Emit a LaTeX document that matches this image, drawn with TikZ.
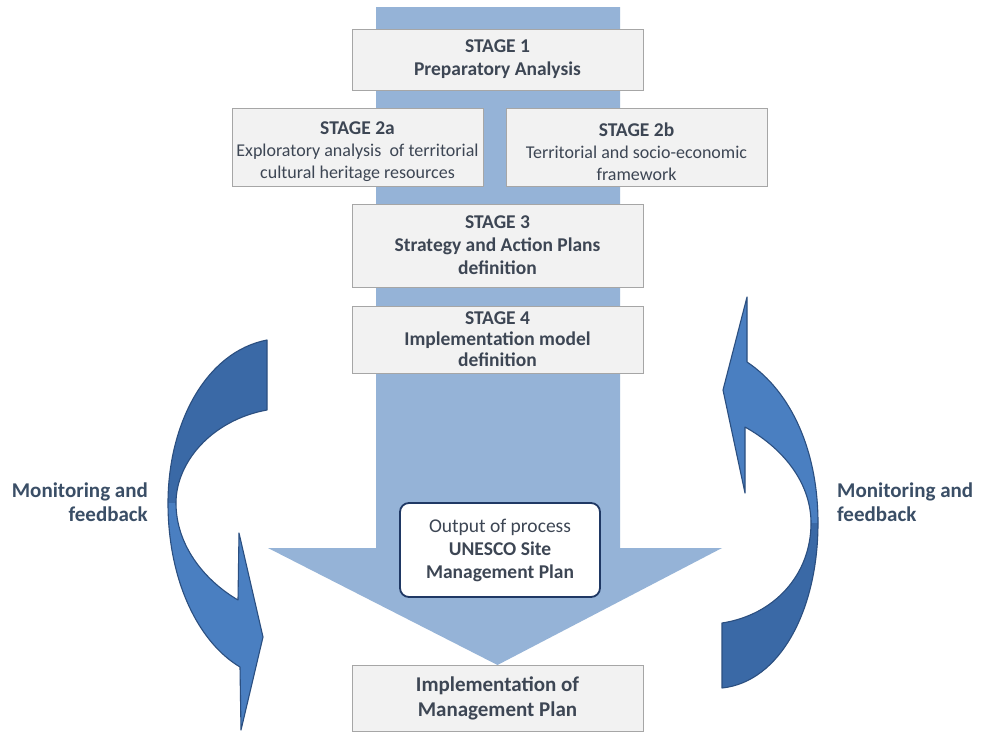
\documentclass[tikz,border=0pt]{standalone}
\usepackage{fontspec}
\setmainfont{Carlito}
\definecolor{barblue}{HTML}{95B3D7}
\definecolor{darkarrow}{HTML}{3A69A6}
\definecolor{lightarrow}{HTML}{4A7FC1}
\definecolor{arrowline}{HTML}{2B4F80}
\definecolor{boxfill}{HTML}{F2F2F2}
\definecolor{boxline}{HTML}{A6A6A6}
\definecolor{txt}{HTML}{3D4654}
\definecolor{montxt}{HTML}{3A4E66}
\definecolor{outline}{HTML}{1F3864}
\tikzset{
  stagebox/.style={draw=boxline, fill=boxfill, line width=0.9pt, align=center,
    text=txt, inner sep=0pt, font=\fontsize{19.5}{23}\selectfont\bfseries},
  boxtext/.style={align=center, text=txt, inner sep=0pt, font=\fontsize{18}{22}\selectfont},
  outbox/.style={draw=outline, fill=white, line width=1.8pt, rounded corners=9pt,
    align=center, text=txt, inner sep=0pt, font=\fontsize{19.5}{23}\selectfont},
  montext/.style={text=montxt, font=\fontsize{21}{24}\selectfont\bfseries, inner sep=0pt},
  arrowedge/.style={draw=arrowline, line width=1.1pt, line join=round}
}
\begin{document}
\begin{tikzpicture}[x=1pt,y=-1pt]
\useasboundingbox (0,0) rectangle (982,731);
\fill[white] (0,0) rectangle (982,731);

% main big arrow
\fill[barblue] (376,7) -- (620,7) -- (620,548) -- (722,548) -- (497.5,665) -- (268,548) -- (376,548) -- cycle;

% left curved arrow
\fill[darkarrow] (267,340) .. controls (205,352) and (168,425) .. (168,503)
  -- (176,503) .. controls (176,462) and (212,420) .. (267,410) -- cycle;
\fill[lightarrow] (168,503) .. controls (168,580) and (198,642) .. (240,667)
  -- (241,730) -- (263,637) -- (239,533) -- (238,600)
  .. controls (204,580) and (176,545) .. (176,503) -- cycle;
\draw[arrowedge] (267,340) .. controls (205,352) and (168,425) .. (168,503)
  .. controls (168,580) and (198,642) .. (240,667)
  -- (241,730) -- (263,637) -- (239,533) -- (238,600)
  .. controls (204,580) and (176,545) .. (176,503)
  .. controls (176,462) and (212,420) .. (267,410) -- cycle;

% right curved arrow
\fill[lightarrow] (747,297) -- (747,362) .. controls (792,392) and (818,452) .. (818,523)
  -- (811,523) .. controls (811,485) and (786,450) .. (745,427)
  -- (745,493) -- (723,390) -- cycle;
\fill[darkarrow] (818,523) .. controls (818,610) and (780,682) .. (722,688)
  -- (722,623) .. controls (774,615) and (811,575) .. (811,523) -- cycle;
\draw[arrowedge] (747,297) -- (747,362) .. controls (792,392) and (818,452) .. (818,523)
  .. controls (818,610) and (780,682) .. (722,688)
  -- (722,623) .. controls (774,615) and (811,575) .. (811,523)
  .. controls (811,485) and (786,450) .. (745,427)
  -- (745,493) -- (723,390) -- cycle;

% stage boxes
\node[stagebox, minimum width=291pt, minimum height=61pt] (s1) at (497.5,59.5)
  {STAGE 1\\Preparatory Analysis};
\node[stagebox, minimum width=251pt, minimum height=78pt] (s2a) at (357.5,147) {};
\node[boxtext] (t2a) at (357.5,151.5)
  {{\fontsize{19.5}{22}\selectfont\bfseries STAGE 2a}\\Exploratory analysis\ \ of territorial\\cultural heritage resources};
\node[stagebox, minimum width=261pt, minimum height=78pt] (s2b) at (636.5,147) {};
\node[boxtext] (t2b) at (636.5,151.5)
  {{\fontsize{19.5}{22}\selectfont\bfseries STAGE 2b}\\Territorial and socio-economic\\framework};
\node[stagebox, minimum width=291pt, minimum height=83pt] (s3) at (497.5,245.5)
  {STAGE 3\\Strategy and Action Plans\\definition};
\node[stagebox, minimum width=291pt, minimum height=67pt, font=\fontsize{19.5}{21}\selectfont\bfseries] (s4) at (497.5,339.5)
  {STAGE 4\\Implementation model\\definition};
\node[outbox, minimum width=200pt, minimum height=94pt] (out) at (500,550)
  {Output of process\\\bfseries UNESCO Site\\\bfseries Management Plan};
\node[stagebox, minimum width=291pt, minimum height=66pt, font=\fontsize{21}{25}\selectfont\bfseries] (impl) at (497.5,698)
  {Implementation of\\Management Plan};

% side labels
\node[montext, align=right, anchor=east] (ml) at (148,502) {Monitoring and\\feedback};
\node[montext, align=left, anchor=west] (mr) at (837,502) {Monitoring and\\feedback};
\end{tikzpicture}
\end{document}
